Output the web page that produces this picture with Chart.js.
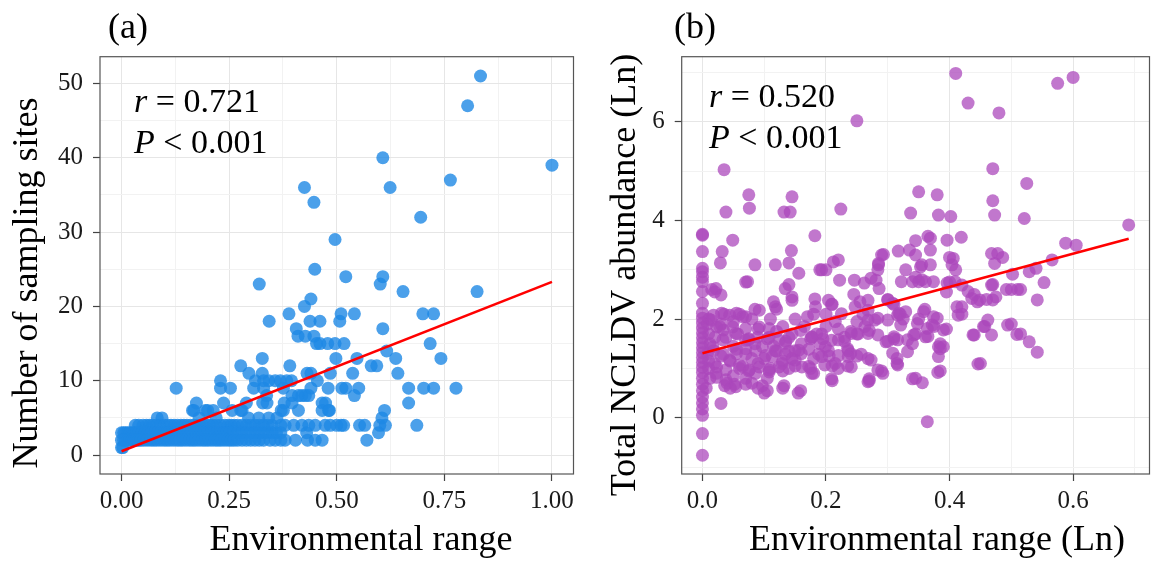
<!DOCTYPE html>
<html>
<head>
<meta charset="utf-8">
<script src="https://cdn.jsdelivr.net/npm/chart.js@4.4.1/dist/chart.umd.min.js"></script>
<style>
  body { margin: 0; background: #fff; }
  #wrap { position: relative; width: 1156px; height: 561px; }
  canvas { position: absolute; top: 0; }
  #chartA { left: 0; }
  #chartB { left: 580px; }
</style>
</head>
<body>
<div id="wrap">
  <canvas id="chartA" width="580" height="561"></canvas>
  <canvas id="chartB" width="576" height="561"></canvas>
</div>
<script>
// ---- panel (a): environmental range vs number of sampling sites ----
const pointsA = [
  [0.834,51],[0.804,47],[0.607,40],[1.0,39],[0.764,37],[0.425,36],[0.624,36],[0.447,34],[0.695,32],[0.496,29],
  [0.449,25],[0.521,24],[0.607,24],[0.32,23],[0.601,23],[0.654,22],[0.826,22],[0.44,21],[0.425,20],
  [0.389,19],[0.51,19],[0.541,19],[0.70,19],[0.725,19],
  [0.343,18],[0.438,18],[0.461,18],[0.507,18],
  [0.406,17],[0.607,17],[0.41,16],[0.427,16],[0.447,16],
  [0.453,15],[0.461,15],[0.479,15],[0.496,15],[0.517,15],[0.717,15],[0.616,14],
  [0.327,13],[0.498,13],[0.547,13],[0.637,13],[0.742,13],
  [0.277,12],[0.391,12],[0.58,12],[0.593,12],
  [0.296,11],[0.327,11],[0.431,11],[0.44,11],[0.485,11],[0.537,11],[0.642,11],
  [0.23,10],[0.311,10],[0.33,10],[0.342,10],[0.357,10],[0.369,10],[0.384,10],[0.395,10],[0.455,10],
  [0.127,9],[0.23,9],[0.253,9],[0.307,9],[0.33,9],[0.376,9],[0.44,9],[0.48,9],[0.512,9],[0.521,9],[0.551,9],[0.667,9],[0.702,9],[0.725,9],[0.777,9],
  [0.337,8],[0.396,8],[0.411,8],[0.419,8],[0.427,8],[0.435,8],[0.541,8],
  [0.174,7],[0.237,7],[0.29,7],[0.328,7],[0.338,7],[0.378,7],[0.396,7],[0.466,7],[0.474,7],[0.667,7],
  [0.165,6],[0.168,6],[0.195,6],[0.2,6],[0.213,6],[0.257,6],[0.277,6],[0.28,6],[0.371,6],[0.376,6],[0.411,6],[0.466,6],[0.481,6],[0.483,6],[0.611,6],
  [0.083,5],[0.094,5],[0.18,5],[0.22,5],[0.295,5],[0.319,5],[0.342,5],[0.361,5],[0.605,5],
  [0.032,4],[0.04,4],[0.05,4],[0.058,4],[0.065,4],[0.072,4],[0.08,4],[0.09,4],[0.1,4],[0.108,4],[0.115,4],[0.122,4],[0.13,4],[0.138,4],[0.145,4],[0.152,4],[0.16,4],[0.168,4],[0.175,4],[0.183,4],[0.19,4],[0.198,4],[0.205,4],[0.212,4],[0.22,4],[0.23,4],[0.24,4],[0.248,4],[0.255,4],[0.262,4],[0.27,4],[0.28,4],[0.29,4],[0.3,4],[0.31,4],[0.32,4],[0.33,4],[0.34,4],[0.35,4],[0.37,4],[0.38,4],[0.40,4],[0.419,4],[0.435,4],[0.45,4],[0.473,4],[0.485,4],[0.50,4],[0.51,4],[0.516,4],[0.553,4],[0.565,4],[0.60,4],[0.613,4],[0.686,4],
  [0.0,3],[0.005,3],[0.01,3],[0.015,3],[0.02,3],[0.025,3],[0.03,3],[0.035,3],[0.04,3],[0.048,3],[0.055,3],[0.062,3],[0.07,3],[0.078,3],[0.085,3],[0.092,3],[0.1,3],[0.105,3],[0.11,3],[0.118,3],[0.125,3],[0.132,3],[0.14,3],[0.148,3],[0.155,3],[0.162,3],[0.17,3],[0.178,3],[0.185,3],[0.192,3],[0.2,3],[0.208,3],[0.215,3],[0.222,3],[0.23,3],[0.238,3],[0.245,3],[0.252,3],[0.26,3],[0.27,3],[0.28,3],[0.29,3],[0.3,3],[0.31,3],[0.32,3],[0.33,3],[0.34,3],[0.35,3],[0.36,3],[0.37,3],[0.43,3],[0.597,3],
  [0.0,2],[0.005,2],[0.01,2],[0.015,2],[0.02,2],[0.025,2],[0.03,2],[0.035,2],[0.04,2],[0.045,2],[0.052,2],[0.06,2],[0.068,2],[0.075,2],[0.082,2],[0.09,2],[0.098,2],[0.105,2],[0.112,2],[0.12,2],[0.128,2],[0.135,2],[0.142,2],[0.15,2],[0.158,2],[0.165,2],[0.172,2],[0.18,2],[0.188,2],[0.195,2],[0.202,2],[0.21,2],[0.218,2],[0.225,2],[0.232,2],[0.24,2],[0.248,2],[0.255,2],[0.262,2],[0.27,2],[0.28,2],[0.29,2],[0.3,2],[0.31,2],[0.32,2],[0.33,2],[0.345,2],[0.357,2],[0.37,2],[0.38,2],[0.404,2],[0.432,2],[0.45,2],[0.466,2],[0.57,2],
  [0.0,1],[0.003,1]
];
const fitXA = [0, 1];
const fitYA = [0.5, 23.3];
const xMajorA = [0, 0.25, 0.5, 0.75, 1];
const xMinorA = [0.125, 0.375, 0.625, 0.875];
const yMajorA = [0, 10, 20, 30, 40, 50];
const yMinorA = [5, 15, 25, 35, 45];

// ---- panel (b): environmental range (Ln) vs total NCLDV abundance (Ln) ----
const pointsB = [
  [0.41,6.98],[0.60,6.9],[0.575,6.78],[0.43,6.38],[0.25,6.02],[0.48,6.18],
  [0.035,5.03],[0.47,5.05],[0.525,4.75],
  [0.35,4.58],[0.38,4.52],[0.075,4.52],[0.145,4.48],
  [0.47,4.4],[0.473,4.11],[0.382,4.11],[0.402,4.08],[0.521,4.04],[0.337,4.15],
  [0.038,4.17],[0.076,4.25],[0.132,4.17],[0.142,4.17],[0.224,4.23],
  [0.69,3.91],
  [0.049,3.60],[0.182,3.69],[0.345,3.59],[0.369,3.64],[0.396,3.60],[0.419,3.66],[0.365,3.68],
  [0,3.72],[0,3.70],[0,3.37],
  [0.588,3.54],[0.605,3.50],[0.566,3.2],
  [0.468,3.33],[0.478,3.33],[0.486,3.25],[0.473,3.13],
  [0.406,3.23],[0.404,3.10],[0.317,3.38],[0.293,3.31],[0.345,3.30],[0.369,3.40],
  [0.032,3.37],[0.029,3.14],[0.085,3.10],[0.118,3.10],[0.140,3.14],[0.144,3.39],
  [0.156,2.93],[0.193,3.0],[0.212,3.16],[0.222,2.79],[0.073,2.76],[0.022,2.62],[0.030,2.49],[0.134,2.62],[0.145,2.45],[0.182,2.41],[0.209,2.30],
  [0.246,2.79],[0.262,2.73],[0.273,2.83],
  [0.285,3.13],[0.284,3.0],[0.281,2.79],[0.286,2.62],[0.329,3.0],[0.353,3.06],[0.369,3.10],
  [0.322,2.76],[0.34,2.76],[0.35,2.76],[0.361,2.76],[0.374,2.76],[0.396,2.73],
  [0.409,2.76],[0.42,2.69],[0.43,2.56],[0.436,2.42],[0.449,2.39],[0.470,2.39],[0.468,2.69],[0.492,2.6],[0.51,2.6],
  [0.502,2.91],[0.529,2.96],[0.54,3.03],[0.553,2.74],[0.542,2.39],
  [0.268,2.18],[0.30,2.39],[0.308,2.32],[0.318,2.12],[0.329,2.15],[0.358,2.15],[0.374,2.05],[0.38,2.02],[0.412,2.25],[0.414,2.08],
  [0.268,1.98],[0.284,2.02],[0.30,1.98],[0.316,2.08],[0.321,1.88],[0.348,1.91],[0.364,1.81],[0.372,1.88],[0.39,1.78],
  [0.268,1.71],[0.284,1.68],[0.297,1.54],[0.31,1.64],[0.316,1.58],[0.332,1.58],[0.342,1.68],[0.361,1.64],
  [0.382,1.44],[0.39,1.44],[0.382,1.24],
  [0.438,1.68],[0.457,1.85],[0.462,1.98],[0.468,1.68],[0.494,1.88],[0.509,1.69],[0.529,1.54],[0.542,1.33],
  [0.268,1.2],[0.273,1.17],[0.308,1.31],[0.316,1.07],[0.332,1.34],
  [0.284,0.97],[0.292,0.90],[0.268,0.73],[0.34,0.79],[0.356,0.71],[0.381,0.92],[0.446,1.09],[0.364,-0.08],
  [0.018,2.08],[0.031,2.12],[0.044,2.08],[0.055,2.12],[0.065,2.05],
  [0.023,1.84],[0.034,1.78],[0.049,1.84],[0.07,1.81],[0.092,1.84],[0.108,1.81],
  [0.02,1.63],[0.038,1.63],[0.057,1.70],[0.07,1.57],[0.089,1.63],[0.108,1.63],[0.124,1.57],[0.14,1.63],[0.159,1.77],[0.177,1.63],[0.193,1.70],[0.209,1.57],[0.23,1.63],[0.252,1.70],[0.27,1.77],
  [0.018,1.36],[0.034,1.29],[0.055,1.39],[0.07,1.29],[0.086,1.36],[0.102,1.26],[0.118,1.36],[0.134,1.29],[0.15,1.36],[0.172,1.39],[0.188,1.29],[0.204,1.36],[0.22,1.26],[0.236,1.36],[0.257,1.29],
  [0.023,1.03],[0.038,0.97],[0.06,1.07],[0.076,0.97],[0.092,1.03],[0.108,0.93],[0.124,1.03],[0.14,1.0],[0.161,1.03],[0.177,0.90],[0.198,1.07],[0.22,1.0],[0.241,1.03],
  [0.023,0.82],[0.036,0.65],[0.052,0.68],[0.07,0.68],[0.097,0.65],[0.105,0.55],[0.132,0.65],[0.159,0.55],[0.209,0.79],[0.27,0.79],
  [0.030,0.29],
  [0.07,2.75],[0.015,2.6],[0.02,2.55],[0.14,2.7],[0.115,2.35],[0.12,2.2],[0.085,2.2],[0.18,2.1],[0.17,2.05],[0.2,2.1],[0.215,1.95],[0.25,1.95],[0.26,2.1],[0.255,2.35],[0.245,2.5],[0.21,2.3],
  [0.15,2.0],[0.11,2.0],[0.08,2.0],[0.06,2.1],[0.035,2.1],[0.05,1.95],[0.03,1.9],[0.13,1.85],[0.165,1.85],[0.2,1.85],[0.22,1.8],[0.09,1.8],[0.24,1.75],[0.12,1.75],[0.185,1.7],[0.145,1.7],[0.25,1.7],
  [0.195,1.6],[0.105,1.6],[0.075,1.6],[0.175,1.6],[0.135,1.55],[0.23,1.55],[0.19,1.5],[0.16,1.5],[0.085,1.5],[0.115,1.45],[0.05,1.45],[0.07,1.4],[0.235,1.4],[0.14,1.35],[0.12,1.35],[0.055,1.3],[0.24,1.3],[0.16,1.3],
  [0.25,1.25],[0.205,1.25],[0.03,1.25],[0.18,1.2],[0.145,1.2],[0.1,1.2],[0.08,1.2],[0.13,1.15],[0.045,1.15],[0.09,1.1],[0.02,1.1],[0.15,1.05],[0.21,1.05],[0.235,1.05],[0.11,1.0],[0.175,1.0],[0.06,1.0],
  [0.13,0.95],[0.075,0.95],[0.18,0.9],[0.05,0.85],[0.105,0.8],[0.07,0.8],[0.21,0.75],[0.08,0.7],[0.04,0.7],[0.13,0.6],[0.09,0.6],[0.045,0.6],[0.1,0.5],[0.155,0.5],
  [0.01,2.0],[0.01,1.7],[0.012,1.5],[0.008,1.3],[0.01,1.0],[0.012,0.8],[0.008,1.9],[0.01,1.15],[0.006,0.6],
  [0.31,1.6],[0.3,1.55],[0.315,1.2],[0.315,1.1],[0.29,0.95],[0.27,0.75],[0.325,2.0],[0.32,2.1],[0.31,2.3],[0.3,2.4],
  [0.36,2.2],[0.35,2.0],[0.375,1.85],[0.395,1.8],[0.365,1.65],[0.345,1.7],[0.34,1.5],[0.385,1.5],[0.385,1.4],[0.385,0.95],[0.345,0.8],
  [0.42,2.25],[0.42,2.1],[0.44,2.5],[0.445,2.35],[0.46,2.4],[0.5,1.9],[0.515,1.7],[0.455,1.85],[0.44,1.68],[0.45,1.1],
  [0.5,2.6],[0.515,2.6],[0.47,2.7],[0.475,2.45],[0.395,2.55],[0.4,2.75],[0.355,2.8],[0.345,2.85],[0.41,3.0],[0.4,3.25],[0.335,3.4],[0.29,3.3],[0.355,3.1],[0.285,3.1],[0.22,3.2],[0.2,3.0],[0.19,3.0],
  [0.028,1.85],[0.054,1.71],[0.075,1.58],[0.097,1.44],[0.113,1.24],[0.134,1.51],[0.156,1.37],[0.177,1.64],[0.199,1.44],[0.22,1.58],[0.241,1.71],[0.263,1.85],[0.279,1.98],
  [0.044,1.17],[0.065,1.04],[0.086,0.90],[0.108,0.97],[0.129,1.1],[0.15,1.17],[0.172,1.04],[0.193,1.24],[0.215,1.1],[0.236,1.24],
  [0.038,0.77],[0.054,0.63],[0.022,0.9],[0.017,1.44],[0.033,1.58],[0.014,1.98],
  [0.07,2.05],[0.092,2.18],[0.118,2.25],[0.145,2.38],[0.183,2.25],[0.204,2.38],[0.225,2.11],[0.247,2.25],[0.268,2.38],
  [0,3.03],[0,2.96],[0,2.85],[0,2.76],[0,2.56],[0,2.32],[0,2.12],[0,2.02],[0,1.92],[0,1.82],[0,1.72],[0,1.62],[0,1.52],[0,1.42],[0,1.32],[0,1.22],[0,1.12],[0,1.02],[0,0.92],[0,0.8],[0,0.68],[0,0.55],[0,0.42],[0,0.3],[0,0.18],[0,0.05],[0,-0.32],[0,-0.76]
];
const fitXB = [0, 0.69];
const fitYB = [1.31, 3.63];
const xMajorB = [0, 0.2, 0.4, 0.6];
const xMinorB = [0.1, 0.3, 0.5, 0.7];
const yMajorB = [0, 2, 4, 6];
const yMinorB = [-1, 1, 3, 5, 7];

Chart.defaults.font.family = '"Liberation Serif", "Times New Roman", serif';
Chart.defaults.color = '#1a1a1a';

const panelText = {
  id: 'panelText',
  afterDatasetsDraw(chart) {
    const a = chart.chartArea;
    const ctx = chart.ctx;
    ctx.save();
    ctx.strokeStyle = '#555';
    ctx.lineWidth = 1.2;
    ctx.strokeRect(a.left, a.top, a.right - a.left, a.bottom - a.top);
    ctx.restore();
  },
  afterDraw(chart, args, o) {
    const ctx = chart.ctx;
    ctx.save();
    ctx.fillStyle = '#000';
    ctx.textBaseline = 'alphabetic';
    ctx.textAlign = 'left';
    ctx.font = '36px "Liberation Serif"';
    ctx.fillText(o.label, o.labelX, 38);

    ctx.font = 'italic 34px "Liberation Serif"';
    ctx.fillText('r', o.statX, o.rY);
    let w = ctx.measureText('r').width;
    ctx.font = '34px "Liberation Serif"';
    ctx.fillText(' = ' + o.r, o.statX + w, o.rY);
    ctx.font = 'italic 34px "Liberation Serif"';
    ctx.fillText('P', o.statX, o.pY);
    w = ctx.measureText('P').width;
    ctx.font = '34px "Liberation Serif"';
    ctx.fillText(' < ' + o.p, o.statX + w, o.pY);

    ctx.font = '36px "Liberation Serif"';
    ctx.textAlign = 'center';
    ctx.fillText(o.xTitle, o.xTitleX, 550);
    ctx.translate(o.yTitleX, o.yTitleY);
    ctx.rotate(-Math.PI / 2);
    ctx.fillText(o.yTitle, 0, 0);
    ctx.restore();
  }
};

function axis(min, max, majors, minors, fmt, size, pad) {
  const all = majors.concat(minors).sort((p, q) => p - q);
  return {
    type: 'linear',
    min: min,
    max: max,
    border: { display: false },
    afterBuildTicks: s => { s.ticks = all.map(v => ({ value: v })); },
    afterFit: s => {
      if (s.isHorizontal()) s.height = size; else s.width = size;
    },
    grid: {
      color: c => (c.tick && majors.includes(c.tick.value)) ? '#e6e6e6' : '#f2f2f2',
      lineWidth: 1,
      tickLength: 7,
      tickColor: c => (c.tick && majors.includes(c.tick.value)) ? '#444' : 'rgba(0,0,0,0)',
      tickWidth: 1.2
    },
    ticks: {
      autoSkip: false,
      maxRotation: 0,
      padding: pad,
      color: '#1a1a1a',
      font: { size: 25 },
      callback: v => majors.includes(v) ? fmt(v) : ''
    }
  };
}

function makeChart(id, pts, fitX, fitY, color, xAxis, yAxis, pad, text) {
  return new Chart(document.getElementById(id), {
    type: 'scatter',
    data: {
      datasets: [
        {
          type: 'line',
          data: fitX.map((x, i) => ({ x: x, y: fitY[i] })),
          borderColor: '#ff0000',
          borderWidth: 2.6,
          pointRadius: 0
        },
        {
          data: pts.map(p => ({ x: p[0], y: p[1] })),
          backgroundColor: color,
          borderWidth: 0,
          pointRadius: 6.5
        }
      ]
    },
    options: {
      responsive: false,
      animation: false,
      layout: { padding: pad },
      plugins: {
        legend: { display: false },
        tooltip: { enabled: false },
        panelText: text
      },
      scales: { x: xAxis, y: yAxis }
    },
    plugins: [panelText]
  });
}

makeChart('chartA', pointsA, fitXA, fitYA, 'rgba(30,136,229,0.8)',
  axis(-0.05, 1.05, xMajorA, xMinorA, v => v.toFixed(2), 87, 5),
  axis(-2.55, 53.6, yMajorA, yMinorA, v => String(v), 100, 10),
  { left: 0, right: 5.7, top: 56.7, bottom: 0 },
  { label: '(a)', labelX: 108, statX: 134, rY: 112, pY: 153, r: '0.721', p: '0.001',
    xTitle: 'Environmental range', xTitleX: 361,
    yTitle: 'Number of sampling sites', yTitleX: 37, yTitleY: 283 });

makeChart('chartB', pointsB, fitXB, fitYB, 'rgba(171,71,188,0.74)',
  axis(-0.0336, 0.7237, xMajorB, xMinorB, v => v.toFixed(1), 87, 5),
  axis(-1.14, 7.32, yMajorB, yMinorB, v => String(v), 101.7, 10),
  { left: 0, right: 1, top: 56.7, bottom: 0 },
  { label: '(b)', labelX: 94, statX: 129, rY: 107, pY: 148, r: '0.520', p: '0.001',
    xTitle: 'Environmental range (Ln)', xTitleX: 357,
    yTitle: 'Total NCLDV abundance (Ln)', yTitleX: 55, yTitleY: 275 });
</script>
</body>
</html>
